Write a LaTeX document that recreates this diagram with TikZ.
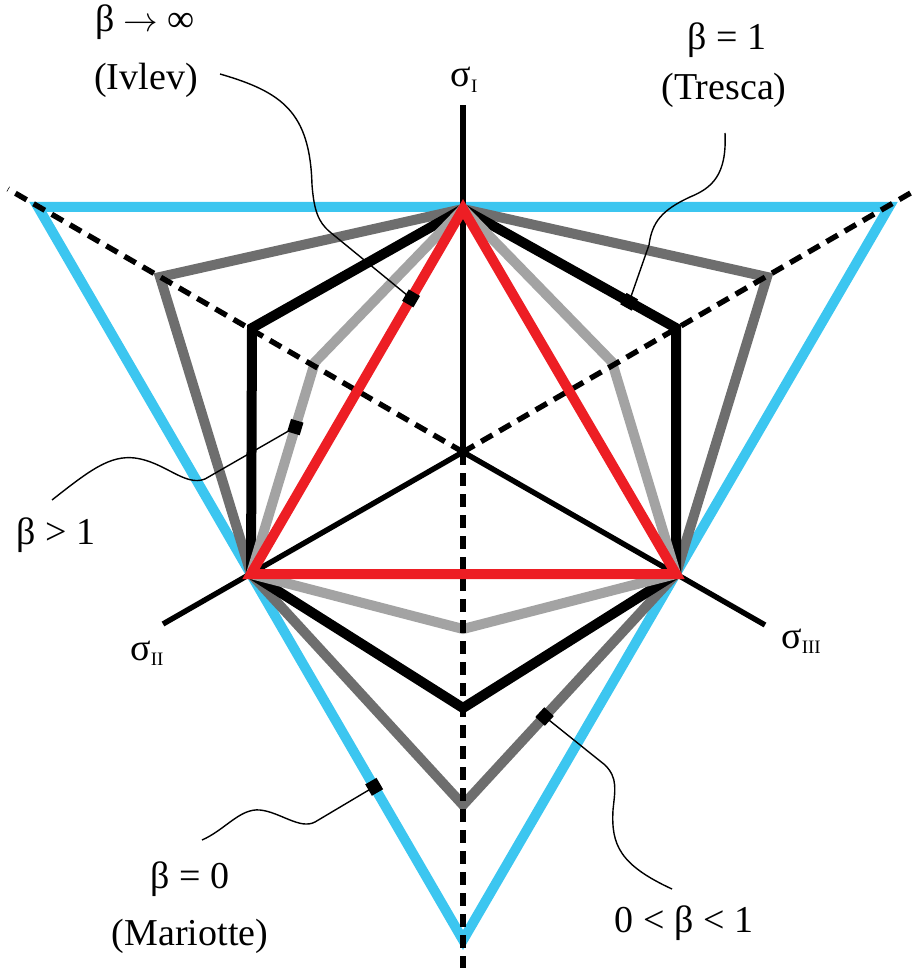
\documentclass[tikz,border=0pt]{standalone}
\usepackage{fontspec}
\setmainfont{Liberation Serif}
\usetikzlibrary{calc}

\definecolor{mariotte}{RGB}{60,198,240}
\definecolor{ivlev}{RGB}{237,30,36}
\definecolor{darkgrey}{RGB}{110,110,110}
\definecolor{lightgrey}{RGB}{163,163,163}

\tikzset{
  crit/.style={line width=5pt},
  axis/.style={line width=2.7pt},
  axisdash/.style={axis,dash pattern=on 6.5pt off 4pt},
  leader/.style={line width=0.7pt},
  lbl/.style={font=\fontsize{19}{23}\selectfont,inner sep=0pt,anchor=base},
}
% principal stress with roman index
\newcommand{\sig}[1]{σ\raisebox{-0.15em}{\fontsize{9.5}{10}\selectfont #1}}
% small square on a curve: marker, edge end, edge end
\newcommand{\tick}[3]{\draw[line width=6.5pt] ($(#1)!3.3pt!(#2)$) -- ($(#1)!3.3pt!(#3)$);}

\begin{document}
\begin{tikzpicture}[x=0.5pt,y=-0.5pt]
\useasboundingbox (0,0) rectangle (918,977);

\coordinate (O) at (463,452);
\coordinate (s1) at (463,105);
\coordinate (s2) at (163,624);
\coordinate (s3) at (765,625);
\coordinate (d1) at (463,968);
\coordinate (d2) at (8,189);
\coordinate (d3) at (914,191);

% common vertices
\coordinate (T) at (463,209);
\coordinate (L) at (251,574);
\coordinate (R) at (676,574);
% Mariotte
\coordinate (mL) at (38,207);
\coordinate (mR) at (889,207);
\coordinate (mB) at (463,940);
% 0 < beta < 1
\coordinate (gL) at (160,277);
\coordinate (gR) at (767,277);
\coordinate (gB) at (463,805);
% Tresca
\coordinate (tL) at (252,328);
\coordinate (tR) at (676,328);
\coordinate (tB) at (463,708);
% beta > 1
\coordinate (hL) at (315,362);
\coordinate (hR) at (612,362);
\coordinate (hB) at (463,629);

\draw[crit,mariotte] (mL) -- (mR) -- (mB) -- cycle;
\draw[crit,darkgrey] (T) -- (gR) -- (R) -- (gB) -- (L) -- (gL) -- cycle;
\draw[crit,black] (T) -- (tR) -- (R) -- (tB) -- (L) -- (tL) -- cycle;
\draw[crit,lightgrey] (T) -- (hR) -- (R) -- (hB) -- (L) -- (hL) -- cycle;

\draw[axis] (O) -- (s1);
\draw[axis] (O) -- (s2);
\draw[axis] (O) -- (s3);
\draw[axisdash] (O) -- (d1);
\draw[axisdash] (O) -- (d2);
\draw[axisdash] (O) -- (d3);

\draw[crit,ivlev] (T) -- (R) -- (L) -- cycle;

% labels
\node[lbl] (ivl1) at (145,32) {β $\rightarrow$ ∞};
\node[lbl] (ivl2) at (146,90) {(Ivlev)};
\node[lbl] (tre1) at (727,50) {β = 1};
\node[lbl] (tre2) at (724,100) {(Tresca)};
\node[lbl] (big) at (56,544) {β > 1};
\node[lbl] (mar1) at (190,888) {β = 0};
\node[lbl] (mar2) at (190,945) {(Mariotte)};
\node[lbl] (mid) at (684,932) {0 < β < 1};
\node[lbl] (sI) at (464,87) {\sig{I}};
\node[lbl] (sII) at (147,660) {\sig{II}};
\node[lbl] (sIII) at (801,648) {\sig{III}};

% leaders
\coordinate (mk1) at ($(T)!0.245!(L)$);
\coordinate (mk2) at ($(hL)!0.307!(L)$);
\coordinate (mk3) at ($(T)!0.78!(tR)$);
\coordinate (mk4) at ($(gB)!0.383!(R)$);
\coordinate (mk5) at ($(mB)!0.209!(mL)$);
\coordinate (e1) at (220,74);
\coordinate (e2) at (52,500);
\coordinate (e3) at (725,133);
\coordinate (e4) at (672,889);
\coordinate (e5) at (202,840);

\draw[leader] (e1) .. controls (282,92) and (310,112) .. (312,185)
  .. controls (314,210) and (318,222) .. (330,232) -- (mk1);
\draw[leader] (e2) .. controls (90,470) and (110,455) .. (135,458)
  .. controls (165,462) and (185,487) .. (205,479) -- (mk2);
\draw[leader] (e3) .. controls (727,175) and (712,188) .. (690,197)
  .. controls (662,210) and (652,222) .. (649,245) -- (mk3);
\draw[leader] (mk4) -- (605,765) .. controls (618,778) and (615,790) .. (613,810)
  .. controls (611,845) and (620,865) .. (e4);
\draw[leader] (e5) .. controls (225,830) and (240,808) .. (260,810)
  .. controls (280,812) and (300,830) .. (315,822) -- (mk5);

\tick{mk1}{T}{L}
\tick{mk2}{hL}{L}
\tick{mk3}{T}{tR}
\tick{mk4}{gB}{R}
\tick{mk5}{mB}{mL}
\end{tikzpicture}
\end{document}
